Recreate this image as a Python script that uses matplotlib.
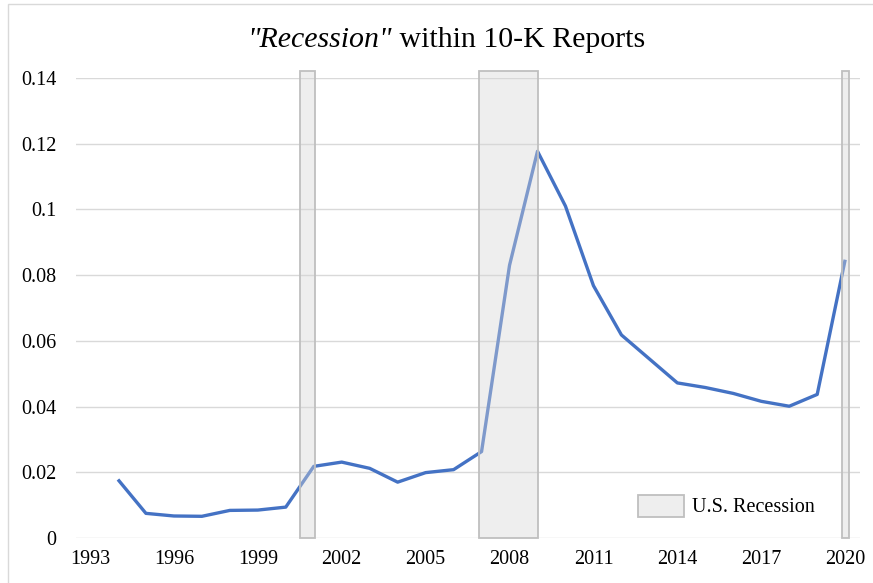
import numpy as np
import matplotlib
matplotlib.use("Agg")
import matplotlib.pyplot as plt
from matplotlib.patches import Rectangle, Patch

plt.rcParams['font.family'] = ['Liberation Serif', 'DejaVu Serif']

# share of 10-K reports mentioning "recession", by year
years = list(range(1994, 2021))
share = [0.0178, 0.0075, 0.0067, 0.0066, 0.0084, 0.0085, 0.0094,
         0.0218, 0.0231, 0.0212, 0.0170, 0.0199, 0.0208, 0.0263,
         0.0830, 0.1177, 0.1010, 0.0768, 0.0618, 0.0545, 0.0472,
         0.0458, 0.0440, 0.0416, 0.0401, 0.0437, 0.0847]

# NBER recession periods (fractional years)
rec_start = [2000.5, 2006.92, 2019.88]
rec_end = [2001.05, 2009.02, 2020.12]
rec_top = 0.142

xtick_years = [1993, 1996, 1999, 2002, 2005, 2008, 2011, 2014, 2017, 2020]
ytick_vals = [0, 0.02, 0.04, 0.06, 0.08, 0.1, 0.12, 0.14]
ytick_labels = ['0', '0.02', '0.04', '0.06', '0.08', '0.1', '0.12', '0.14']

fig = plt.figure(figsize=(8.73, 5.83), dpi=100)
ax = fig.add_axes([76 / 873, 45 / 583, 784 / 873, 460 / 583])

grid_col = '#d9d9d9'
for v in ytick_vals:
    ax.axhline(v, color=grid_col, lw=1.0, zorder=0)

line_col = '#4472C4'
ax.plot(years, share, color=line_col, lw=2.4, solid_joinstyle='round',
        solid_capstyle='butt', zorder=2)

bar_face = (0.84, 0.84, 0.84, 0.4)
bar_edge = '#bfbfbf'
widths = [e - s for s, e in zip(rec_start, rec_end)]
ax.bar(rec_start, [rec_top] * len(rec_start), width=widths, align='edge',
       facecolor=bar_face, edgecolor=bar_edge, linewidth=1.3,
       clip_on=False, zorder=3)

ax.set_xlim(1992.5, 2020.53)
ax.set_ylim(0, 0.14)
ax.set_xticks(xtick_years)
ax.set_xticklabels([str(y) for y in xtick_years])
ax.set_yticks(ytick_vals)
ax.set_yticklabels(ytick_labels)
ax.tick_params(axis='both', length=0, labelsize=14.5, colors='#000000')
ax.tick_params(axis='y', pad=14)
ax.tick_params(axis='x', pad=9)
for s in ax.spines.values():
    s.set_visible(False)

handle = Patch(facecolor=bar_face, edgecolor=bar_edge, linewidth=1.3)
ax.legend([handle], ['U.S. Recession'], loc='center left',
          bbox_to_anchor=((638 - 76) / 784, (538 - 506) / 460),
          frameon=False, fontsize=14.5, handlelength=2.3, handleheight=1.3,
          handletextpad=0.4, borderpad=0, borderaxespad=0)

# title: italic quoted word followed by upright text, centred as a whole
title_x, title_y = 446 / 873, 1 - 40 / 583
t1 = fig.text(0, title_y, '"Recession"', style='italic', fontsize=21.5,
              ha='left', va='center')
t2 = fig.text(0, title_y, ' within 10-K Reports', fontsize=21.5,
              ha='left', va='center')
fig.canvas.draw()
r = fig.canvas.get_renderer()
w1 = t1.get_window_extent(r).width / fig.bbox.width
w2 = t2.get_window_extent(r).width / fig.bbox.width
x0 = title_x - (w1 + w2) / 2
t1.set_x(x0)
t2.set_x(x0 + w1)

# chart area border
fig.patches.append(Rectangle((8 / 873, -0.1), 1.2, 1.1 - 4 / 583,
                             transform=fig.transFigure, fill=False,
                             edgecolor='#d9d9d9', linewidth=1.0))

fig.savefig('out.png', dpi=100)
